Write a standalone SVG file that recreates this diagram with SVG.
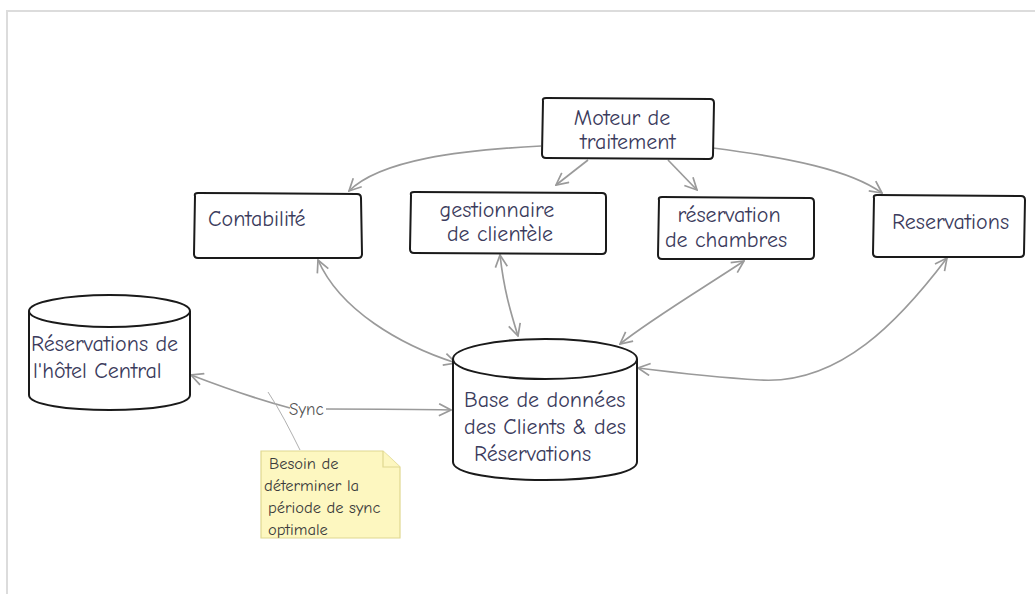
<svg xmlns="http://www.w3.org/2000/svg" width="1035" height="594" viewBox="0 0 1035 594">
  <style>
    .frame { fill: none; stroke: #dcdcdc; stroke-width: 2; }
    .box { fill: #ffffff; stroke: #1a1a1a; stroke-width: 2; stroke-linejoin: round; }
    .lbl { font-family: "Comic Neue", "Liberation Sans", "DejaVu Sans", sans-serif; font-size: 22px; fill: #3b3b5c; }
    .edge { fill: none; stroke: #9a9a9a; stroke-width: 1.7; }
    .thin { fill: none; stroke: #b0b0b0; stroke-width: 1; }
    .sync { font-family: "Comic Neue", "Liberation Sans", "DejaVu Sans", sans-serif; font-size: 17px; fill: #555; }
    .note { fill: #fdf7c0; stroke: #e0d890; stroke-width: 1.2; }
    .notetxt { font-family: "Comic Neue", "Liberation Sans", "DejaVu Sans", sans-serif; font-size: 16.5px; fill: #3b3b3b; }
  </style>
  <defs>
    <marker id="arrow" viewBox="0 0 14 14" refX="13" refY="7" markerWidth="14" markerHeight="14" markerUnits="userSpaceOnUse" orient="auto-start-reverse">
      <path d="M1,1 L13,7 L1,13" fill="none" stroke="#9a9a9a" stroke-width="1.7"/>
    </marker>
  </defs>

  <rect width="1035" height="594" fill="#ffffff"/>
  <!-- page frame -->
  <path class="frame" d="M7,594 L7,11 L1035,11"/>

  <!-- connectors -->
  <g id="connectors">
    <path class="edge" d="M541,146 C460,150 380,160 349,191" marker-end="url(#arrow)"/>
    <path class="edge" d="M588,160 L556,185" marker-end="url(#arrow)"/>
    <path class="edge" d="M668,160 L697,190" marker-end="url(#arrow)"/>
    <path class="edge" d="M713,148 C790,158 850,170 882,193" marker-end="url(#arrow)"/>
    <path class="edge" d="M318,260 C340,310 400,345 456,363" marker-start="url(#arrow)" marker-end="url(#arrow)"/>
    <path class="edge" d="M500,255 C504,290 510,310 518,336" marker-start="url(#arrow)" marker-end="url(#arrow)"/>
    <path class="edge" d="M744,261 C700,290 650,320 620,344" marker-start="url(#arrow)" marker-end="url(#arrow)"/>
    <path class="edge" d="M947,258 C900,320 840,385 760,380 C710,377 670,372 638,368" marker-start="url(#arrow)" marker-end="url(#arrow)"/>
    <path class="edge" d="M191,375 C230,390 260,400 290,408" marker-start="url(#arrow)"/>
    <path class="edge" d="M326,409 C370,409 410,409 451,410" marker-end="url(#arrow)"/>
    <path class="thin" d="M300,450 C290,430 280,410 268,392"/>
    <text class="sync" x="289" y="415">Sync</text>
  </g>

  <g id="moteur">
    <path class="box" d="M543,101 Q542,98 546,98 L710,99 Q714,99 714,103 L713,155 Q713,159 709,159 L546,158 Q542,158 542,154 Z"/>
    <text class="lbl" x="622" y="125" text-anchor="middle">Moteur de</text>
    <text class="lbl" x="628" y="149" text-anchor="middle">traitement</text>
  </g>

  <g id="contabilite">
    <path class="box" d="M195,196 Q194,193 198,193 L357,194 Q361,194 361,198 L362,254 Q362,258 358,258 L198,258 Q194,258 194,254 Z"/>
    <text class="lbl" x="208" y="226">Contabilité</text>
  </g>

  <g id="gestionnaire">
    <path class="box" d="M411,195 Q410,192 414,192 L602,193 Q606,193 606,197 L606,250 Q606,254 602,254 L414,253 Q410,253 410,249 Z"/>
    <text class="lbl" x="497" y="217" text-anchor="middle">gestionnaire</text>
    <text class="lbl" x="500" y="241" text-anchor="middle">de clientèle</text>
  </g>

  <g id="reservation-chambres">
    <path class="box" d="M659,200 Q658,197 662,197 L810,198 Q814,198 814,202 L814,255 Q814,259 810,259 L662,259 Q658,259 658,255 Z"/>
    <text class="lbl" x="729" y="222" text-anchor="middle">réservation</text>
    <text class="lbl" x="726" y="247" text-anchor="middle">de chambres</text>
  </g>

  <g id="reservations">
    <path class="box" d="M874,198 Q873,195 877,195 L1021,196 Q1025,196 1025,200 L1024,253 Q1024,257 1020,257 L877,257 Q873,257 873,253 Z"/>
    <text class="lbl" x="892" y="229">Reservations</text>
  </g>

  <g id="hotel-central">
    <path class="box" d="M29,311 L29,395 C29,415 190,415 190,395 L190,311"/>
    <ellipse class="box" cx="109.5" cy="311" rx="80.5" ry="16"/>
    <text class="lbl" x="31" y="351">Réservations de</text>
    <text class="lbl" x="33" y="378">l'hôtel Central</text>
  </g>

  <g id="base-donnees">
    <path class="box" d="M453,359 L453,462 C453,486 637,486 637,462 L637,359"/>
    <ellipse class="box" cx="545" cy="359" rx="92" ry="20"/>
    <text class="lbl" x="464" y="407">Base de données</text>
    <text class="lbl" x="464" y="434">des Clients &amp; des</text>
    <text class="lbl" x="474" y="461">Réservations</text>
  </g>

  <g id="note">
    <path class="note" d="M261,451 L383,451 L400,467 L400,538 L261,538 Z"/>
    <path class="note" d="M383,451 L383,467 L400,467"/>
    <text class="notetxt" x="269" y="469">Besoin de</text>
    <text class="notetxt" x="264" y="491">déterminer la</text>
    <text class="notetxt" x="268" y="513">période de sync</text>
    <text class="notetxt" x="268" y="535">optimale</text>
  </g>
</svg>
